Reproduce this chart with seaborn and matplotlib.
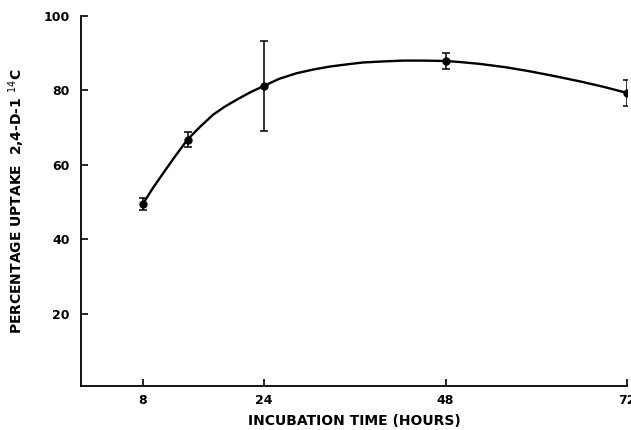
import matplotlib
matplotlib.use("Agg")
import matplotlib.pyplot as plt
import seaborn as sns
import pandas as pd

# measured points (hours, % uptake, +/- error)
hours = [8, 14, 24, 48, 72]
uptake = [49.5, 66.7, 81.2, 87.9, 79.3]
uptake_err = [1.5, 2.0, 12.0, 2.2, 3.5]

curve_hours = [8, 9.3, 10.7, 12.3, 13.9, 15.6, 17.3, 18.8, 20.4, 22.2, 24, 26,
               28.3, 30.5, 32.7, 35, 37.1, 40, 42.4, 45, 48, 50, 52.6, 56,
               59.2, 62.5, 65.8, 69, 72]
curve_uptake = [49.5, 53.7, 57.8, 62.4, 66.8, 70.3, 73.5, 75.6, 77.5, 79.5, 81.2, 83.1,
                84.6, 85.6, 86.4, 87.0, 87.5, 87.8, 88.0, 88.0, 87.9, 87.6, 87.1, 86.2,
                85.1, 83.8, 82.4, 80.9, 79.3]

xticks = [8, 24, 48, 72]
yticks = [20, 40, 60, 80, 100]


def main():
    sns.set_style("ticks")
    plt.rcParams['font.family'] = ['DejaVu Sans']
    for key in ['text.color', 'axes.labelcolor', 'xtick.color', 'ytick.color']:
        plt.rcParams[key] = 'black'

    fig = plt.figure(figsize=(6.31, 4.30), dpi=100)
    ax = fig.add_axes([0.128, 0.102, 0.866, 0.861])

    curve = pd.DataFrame({'hours': curve_hours, 'uptake': curve_uptake})
    sns.lineplot(data=curve, x='hours', y='uptake', ax=ax, color='black',
                 linewidth=1.7, sort=True)

    ax.errorbar(hours, uptake, yerr=uptake_err, fmt='o', color='black',
                markersize=5, elinewidth=1.1, capsize=3, capthick=1.1)

    ax.set_xlim(-0.2, 72)
    ax.set_ylim(0.6, 100)
    ax.set_xticks(xticks)
    ax.set_yticks(yticks)
    ax.set_xticklabels([str(t) for t in xticks], fontsize=9, fontweight='bold')
    ax.set_yticklabels([str(t) for t in yticks], fontsize=9, fontweight='bold')
    ax.tick_params(axis='both', direction='in', length=5, width=1.2,
                   color='black', labelcolor='black')
    ax.tick_params(axis='x', pad=6)
    ax.tick_params(axis='y', pad=8)

    sns.despine(ax=ax)
    for side in ['left', 'bottom']:
        ax.spines[side].set_linewidth(1.3)
        ax.spines[side].set_color('black')

    ax.set_xlabel('INCUBATION TIME (HOURS)', fontsize=10, fontweight='bold', labelpad=5)
    ax.set_ylabel('PERCENTAGE UPTAKE  2,4-D-1 $^{14}$C', fontsize=10,
                  fontweight='bold', labelpad=12)

    fig.savefig('out.png', dpi=100)


if __name__ == "__main__":
    main()
